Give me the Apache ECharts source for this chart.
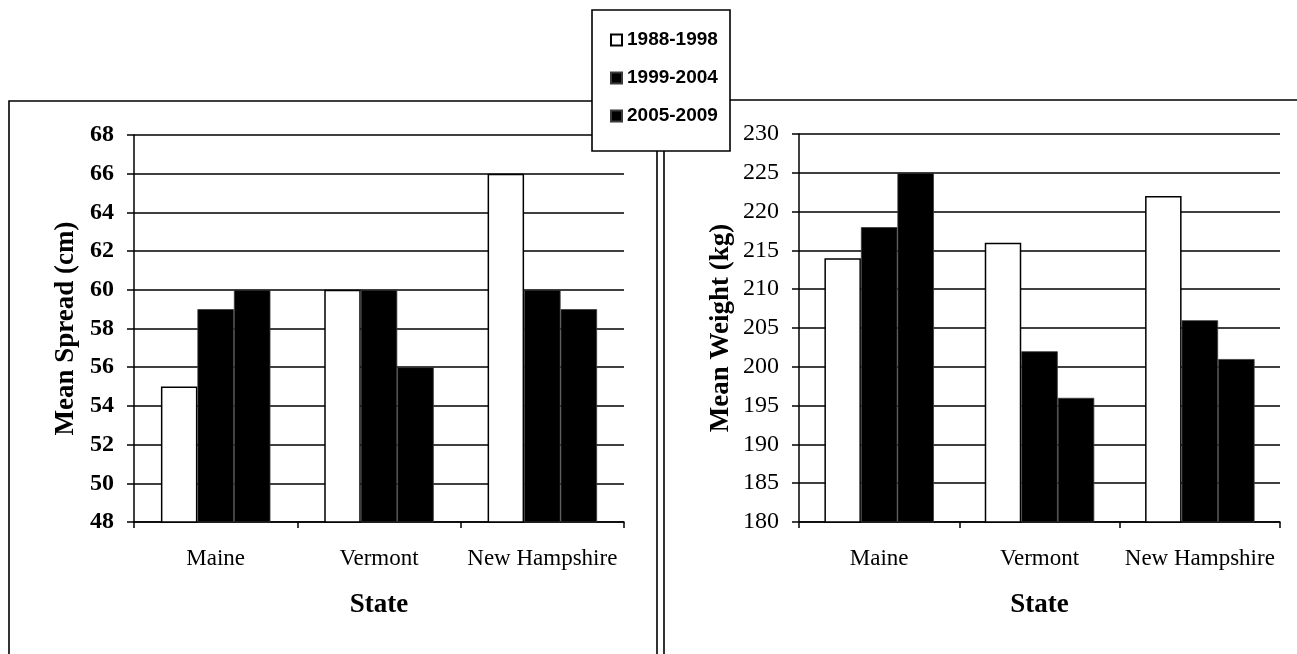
<!DOCTYPE html>
<html>
<head>
<meta charset="utf-8">
<script src="https://cdn.jsdelivr.net/npm/echarts@6/dist/echarts.min.js"></script>
<style>
html,body{margin:0;padding:0;background:#fff;}
#chart{width:1297px;height:654px;}
</style>
</head>
<body>
<div id="chart"></div>
<script>
// ---- data ----
const categories = ['Maine', 'Vermont', 'New Hampshire'];
const periods = ['1988-1998', '1999-2004', '2005-2009'];
const spread1988 = [55, 60, 66];
const spread1999 = [59, 60, 60];
const spread2005 = [60, 56, 59];
const weight1988 = [214, 216, 222];
const weight1999 = [218, 202, 206];
const weight2005 = [225, 196, 201];
const spreadAxis = {min: 48, max: 68, step: 2};
const weightAxis = {min: 180, max: 230, step: 5};
const spreadTitle = 'Mean Spread (cm)';
const weightTitle = 'Mean Weight (kg)';
const xTitle = 'State';

const serif = "'Liberation Serif','Times New Roman',serif";
const chart = echarts.init(document.getElementById('chart'), null, {renderer: 'canvas'});

const periodStyles = [
  {color: '#ffffff', borderColor: '#000', borderWidth: 1.5},
  {color: '#000000', borderColor: '#3a3a3a', borderWidth: 0.8},
  {color: '#000000', borderColor: '#3a3a3a', borderWidth: 0.8}
];

function xAxisCfg(gridIndex) {
  return {
    type: 'category', gridIndex: gridIndex, data: categories,
    name: xTitle, nameLocation: 'middle', nameGap: 70,
    nameTextStyle: {fontFamily: serif, fontWeight: 'bold', fontSize: 27, color: '#000'},
    axisLine: {lineStyle: {color: '#000', width: 1.5}},
    axisTick: {show: true, length: 6, lineStyle: {color: '#000', width: 1.5}},
    axisLabel: {fontFamily: serif, fontSize: 23, color: '#000', margin: 25, interval: 0},
    splitLine: {show: false}
  };
}
function yAxisCfg(gridIndex, ax, title, gap, bold) {
  return {
    type: 'value', gridIndex: gridIndex, min: ax.min, max: ax.max, interval: ax.step,
    name: title, nameLocation: 'middle', nameGap: gap, nameRotate: 90,
    nameTextStyle: {fontFamily: serif, fontWeight: 'bold', fontSize: 27, color: '#000'},
    axisLine: {show: true, lineStyle: {color: '#000', width: 1.5}},
    axisTick: {show: true, length: 7, lineStyle: {color: '#000', width: 1.5}},
    axisLabel: {fontFamily: serif, fontSize: 24, color: '#000', margin: 20, fontWeight: bold ? 'bold' : 'normal'},
    splitLine: {show: true, lineStyle: {color: '#000', width: 1.5}}
  };
}
function barSeries(name, data, idx, gridIdx) {
  return {
    type: 'bar', name: name, data: data,
    xAxisIndex: gridIdx, yAxisIndex: gridIdx,
    barWidth: 36.5, barGap: '0%',
    itemStyle: periodStyles[idx],
    emphasis: {disabled: true}, animation: false
  };
}

const option = {
  backgroundColor: '#fff',
  animation: false,
  grid: [
    {left: 134, top: 135, width: 490, height: 387},
    {left: 799, top: 134, width: 481, height: 388}
  ],
  xAxis: [xAxisCfg(0), xAxisCfg(1)],
  yAxis: [yAxisCfg(0, spreadAxis, spreadTitle, 54, true), yAxisCfg(1, weightAxis, weightTitle, 64, false)],
  legend: {
    data: periods, orient: 'vertical', left: 610, top: 30, padding: 0,
    itemWidth: 11, itemHeight: 11, itemGap: 18, itemPadding: 0,
    icon: 'rect', selectedMode: false, z: 20,
    textStyle: {fontFamily: "'Liberation Sans',Arial,sans-serif", fontWeight: 'bold', fontSize: 19, color: '#000', lineHeight: 20}
  },
  graphic: [
    {type: 'rect', z: 1, shape: {x: 9, y: 101, width: 648, height: 620}, style: {fill: null, stroke: '#000', lineWidth: 1.6}},
    {type: 'rect', z: 1, shape: {x: 664, y: 100, width: 700, height: 620}, style: {fill: null, stroke: '#000', lineWidth: 1.6}},
    {type: 'rect', z: 15, shape: {x: 592, y: 10, width: 138, height: 141}, style: {fill: '#fff', stroke: '#000', lineWidth: 1.6}}
  ],
  series: [
    barSeries(periods[0], spread1988, 0, 0),
    barSeries(periods[1], spread1999, 1, 0),
    barSeries(periods[2], spread2005, 2, 0),
    barSeries(periods[0], weight1988, 0, 1),
    barSeries(periods[1], weight1999, 1, 1),
    barSeries(periods[2], weight2005, 2, 1)
  ]
};
chart.setOption(option);
</script>
</body>
</html>
